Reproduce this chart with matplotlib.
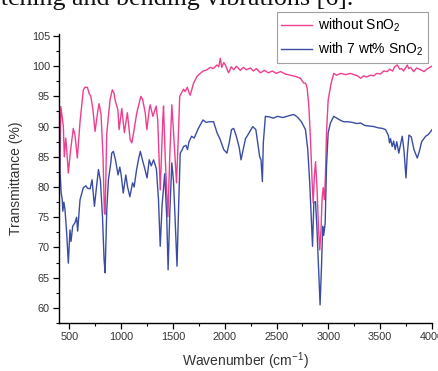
import numpy as np
import matplotlib
matplotlib.use('Agg')
import matplotlib.pyplot as plt
from matplotlib.ticker import MultipleLocator

# FTIR spectra (wavenumber in cm-1, transmittance in %)
wn_pure = [400, 410, 418, 442, 451, 465, 473, 490, 511, 538, 555, 577, 603, 635, 651, 674,
           690, 707, 726, 748, 774, 787, 806, 825, 838, 845, 861, 877, 893, 915, 932, 941,
           968, 980, 1006, 1031, 1060, 1087, 1103, 1125, 1151, 1190, 1207, 1232, 1248, 1273,
           1280, 1306, 1338, 1353, 1377, 1403, 1409, 1425, 1451, 1469, 1489, 1506, 1534, 1551,
           1565, 1580, 1602, 1618, 1638, 1657, 1667, 1699, 1732, 1763, 1792, 1828, 1860, 1889,
           1925, 1942, 1957, 1971, 1991, 2005, 2037, 2063, 2087, 2112, 2150, 2179, 2208, 2247,
           2276, 2305, 2344, 2382, 2421, 2460, 2498, 2537, 2585, 2634, 2682, 2730, 2762, 2779,
           2795, 2811, 2827, 2843, 2853, 2866, 2876, 2890, 2905, 2917, 2929, 2939, 2950, 2962,
           2972, 2982, 2998, 3004, 3027, 3052, 3079, 3117, 3166, 3214, 3246, 3282, 3311, 3340,
           3369, 3408, 3437, 3466, 3504, 3533, 3569, 3591, 3620, 3639, 3665, 3688, 3707, 3726,
           3762, 3775, 3794, 3823, 3852, 3891, 3923, 3949, 3988, 4000]
t_pure = [79, 85, 93.3, 90, 85, 88.1, 86.5, 82.3, 86, 89.7, 88.5, 84.8, 90.8, 96.1, 96.5, 96.5,
          95.5, 95, 93, 89.2, 92.5, 93.8, 92, 85, 75.7, 75.5, 88.9, 91.7, 94.5, 96.1, 95.5, 94.4,
          92.8, 89.5, 93, 89, 92.3, 87.8, 87.3, 89.5, 92.3, 95, 94.5, 92.3, 89.5, 93.1,
          93.6, 91.7, 93.4, 91, 79.5, 91.7, 93.4, 85, 75.1, 85, 93.6, 89, 80.7, 88,
          95, 95.5, 96.2, 95.8, 96.5, 95.5, 95.2, 97.2, 98.3, 98.8, 99.2, 99.4, 99.8, 99.6,
          100.2, 99.9, 101.3, 99.8, 100.6, 100.2, 98.9, 99.9, 99.4, 100, 99.3, 99.8, 99.4, 99.7,
          99.2, 99.6, 98.9, 99.3, 98.9, 99.2, 98.8, 99.1, 98.7, 98.5, 98.3, 98, 97.2, 97.2,
          96.4, 93.5, 88, 81, 77.4, 82, 84.2, 80, 73, 69.6, 73, 78, 79.9, 77.9,
          82, 89, 94.4, 95, 97.2, 98.8, 98.5, 98.8, 98.6, 98.8, 98.6, 98.4, 98, 98.4,
          98.2, 98.5, 98.4, 98.8, 98.7, 99.2, 99.1, 99.5, 99.2, 99.9, 100.2, 99.5, 99.6, 99.2,
          100.2, 99.6, 99.8, 99.1, 99.7, 99.4, 99.1, 99.5, 99.9, 100]

wn_sno2 = [400, 406, 411, 421, 431, 437, 447, 458, 474, 490, 506, 516, 532, 554, 570, 580,
           603, 635, 660, 675, 700, 719, 742, 765, 781, 800, 820, 835, 845, 861, 877, 900,
           909, 925, 945, 970, 987, 1000, 1020, 1045, 1062, 1084, 1110, 1125, 1149, 1170, 1185,
           1205, 1230, 1250, 1271, 1290, 1313, 1340, 1360, 1377, 1395, 1420, 1440, 1453, 1470,
           1489, 1505, 1520, 1539, 1555, 1570, 1590, 1602, 1625, 1640, 1655, 1680, 1705, 1745,
           1790, 1820, 1850, 1892, 1925, 1957, 1990, 2021, 2045, 2065, 2086, 2110, 2140, 2157,
           2175, 2200, 2222, 2270, 2300, 2320, 2337, 2350, 2363, 2372, 2392, 2430, 2470, 2510,
           2560, 2600, 2640, 2666, 2700, 2740, 2779, 2801, 2820, 2834, 2847, 2860, 2876, 2890,
           2905, 2920, 2934, 2945, 2955, 2969, 2982, 2998, 3020, 3052, 3090, 3120, 3150, 3185,
           3230, 3275, 3311, 3350, 3390, 3440, 3480, 3520, 3552, 3580, 3590, 3600, 3616, 3630,
           3645, 3660, 3680, 3690, 3713, 3730, 3736, 3749, 3762, 3778, 3800, 3826, 3858, 3880,
           3900, 3939, 3965, 3988, 4000]
t_sno2 = [95, 88, 82.3, 79, 78, 76, 77.5, 76.2, 72.4, 67.4, 72.9, 71, 73.5, 74.1, 75, 72.7,
          77.9, 79.9, 80.2, 79.8, 79.7, 81.2, 76.8, 80.5, 82.9, 81, 75, 68, 65.8, 76.2, 81.2, 84,
          85.6, 85.9, 84.5, 82, 83.3, 82, 79, 82, 80, 78.4, 80.7, 80, 82.9, 84.8, 85.9,
          84.5, 82.9, 81.5, 84.5, 83.5, 84.5, 83, 78, 70.2, 77, 82.2, 75, 66.3, 76,
          84, 81, 75, 66.9, 77, 85.6, 86.2, 86.7, 86.9, 86.2, 87.5, 88.4, 88.1, 89.7,
          91.1, 90.7, 90.8, 90.8, 89, 87.8, 86.2, 85.6, 87.5, 89.5, 89.7, 88.5, 86.5, 84.5,
          86, 88, 88.6, 90, 89.5, 87, 85, 84.5, 80.9, 87.3, 91.7, 91.6, 91.4, 91.7,
          91.5, 91.7, 91.9, 92, 91.6, 90.8, 89.5, 86.2, 80.7, 75.1, 70.2, 77.4, 77.6, 73,
          66.9, 60.5, 67, 73.5, 72, 74, 83.4, 89, 90.6, 91.7, 91.3, 91, 90.8, 90.8,
          90.7, 90.5, 90.6, 90.2, 90.1, 90, 89.8, 89.7, 89.5, 88.5, 87.3, 88, 86.7, 87.6,
          86.2, 87.5, 85.6, 86.5, 88.4, 86, 84.5, 81.5, 85.5, 88.6, 88.3, 86.2, 84.8, 86,
          87.5, 88.4, 88.7, 89.2, 89.5]

labels = ['without SnO$_2$', 'with 7 wt% SnO$_2$']
colors = ['#EE3E8E', '#3B4DA3']

plt.rcParams['font.family'] = ['Liberation Sans', 'DejaVu Sans']
plt.rcParams['mathtext.fontset'] = 'custom'
plt.rcParams['mathtext.rm'] = 'Liberation Sans'
plt.rcParams['mathtext.it'] = 'Liberation Sans'
plt.rcParams['mathtext.default'] = 'regular'

fig = plt.figure(figsize=(4.39, 3.71), dpi=100)
ax = fig.add_axes([0.1344, 0.1294, 0.8496, 0.7786])

ax.plot(wn_pure, t_pure, color=colors[0], lw=1.0, label=labels[0])
ax.plot(wn_sno2, t_sno2, color=colors[1], lw=1.0, label=labels[1])

ax.set_xlim(400, 4000)
ax.set_ylim(57.5, 105.3)
ax.xaxis.set_major_locator(MultipleLocator(500))
ax.xaxis.set_minor_locator(MultipleLocator(250))
ax.yaxis.set_major_locator(MultipleLocator(5))
ax.yaxis.set_minor_locator(MultipleLocator(2.5))
ax.spines['top'].set_visible(False)
ax.spines['right'].set_visible(False)
for s in ['left', 'bottom']:
    ax.spines[s].set_linewidth(1.0)
ax.tick_params(which='major', direction='out', length=4, width=0.9, labelsize=7.8,
               labelcolor='#333333', pad=2.5)
ax.tick_params(which='minor', direction='out', length=2.2, width=0.8)

ax.set_xlabel('Wavenumber (cm$^{-1}$)', fontsize=10, color='#333333', labelpad=6)
ax.set_ylabel('Transmittance (%)', fontsize=10, color='#333333', labelpad=6)

leg = fig.legend(loc='upper right', bbox_to_anchor=(0.975, 0.968), fontsize=10,
                 frameon=True, fancybox=False, handlelength=2.2, handletextpad=0.45,
                 borderpad=0.35, labelspacing=0.45, borderaxespad=0)
leg.get_frame().set_edgecolor('#888888')
leg.get_frame().set_linewidth(0.8)

# leftover line of the surrounding page text, mostly cut off by the crop
fig.text(353 / 439, 1 - 5 / 371, 'stretching and bending vibrations [6].', ha='right',
         va='baseline', fontsize=18.7, family='Liberation Serif', color='#111111')

fig.savefig('out.png', dpi=100)
